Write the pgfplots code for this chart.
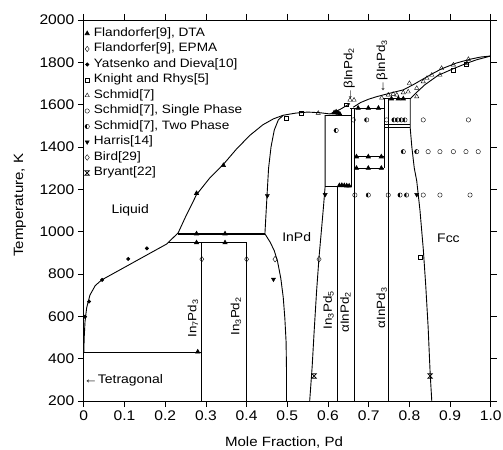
\documentclass[border=0pt]{standalone}
\usepackage{fontspec}
\setmainfont{Liberation Sans}[FakeStretch=1.12]
\usepackage{pgfplots}
\pgfplotsset{compat=1.18}

% hourglass mark for the Bryant data
\pgfdeclareplotmark{hourglass}{%
  \pgfpathmoveto{\pgfqpoint{-\pgfplotmarksize}{\pgfplotmarksize}}%
  \pgfpathlineto{\pgfqpoint{\pgfplotmarksize}{\pgfplotmarksize}}%
  \pgfpathlineto{\pgfqpoint{-\pgfplotmarksize}{-\pgfplotmarksize}}%
  \pgfpathlineto{\pgfqpoint{\pgfplotmarksize}{-\pgfplotmarksize}}%
  \pgfpathclose
  \pgfusepathqstroke}

\begin{document}
\begin{tikzpicture}
\path[use as bounding box] (-83.8bp,-49bp) rectangle (419.2bp,401bp);
\begin{axis}[
  scale only axis, width=407bp, height=381bp,
  xmin=0, xmax=1, ymin=200, ymax=2000,
  xtick={0,0.1,0.2,0.3,0.4,0.5,0.6,0.7,0.8,0.9,1.0},
  xticklabels={0,0.1,0.2,0.3,0.4,0.5,0.6,0.7,0.8,0.9,1.0},
  ytick={200,400,600,800,1000,1200,1400,1600,1800,2000},
  /pgf/number format/assume math mode=true,
  /pgf/number format/set thousands separator={},
  tick align=outside, major tick length=6bp,
  every tick/.style={black, line width=0.8bp},
  axis line style={line width=0.9bp},
  tick label style={font=\fontsize{14}{14}\selectfont},
  xlabel={Mole Fraction, Pd}, ylabel={Temperature, K},
  label style={font=\fontsize{13.5}{13.5}\selectfont},
  xlabel style={at={(axis description cs:0.492,-0.108)}, anchor=center},
  ylabel style={at={(axis description cs:-0.157,0.514)}, anchor=center},
  legend image code/.code={\draw[mark repeat=2,mark phase=2,#1] plot coordinates {(0bp,0bp)(4bp,0bp)(8bp,0bp)};},
  legend cell align=left,
  legend style={at={(axis description cs:0,1)}, anchor=north west,
    xshift=1bp, yshift=-6.3bp, draw=none, fill=none, inner sep=0pt,
    font=\fontsize{12.2}{13}\selectfont, row sep=1.5bp, column sep=3.5bp,
    nodes={inner sep=1bp, text height=9bp, text depth=3bp}},
  bd/.style={black, line width=0.9bp, forget plot},
  rx/.style={black, line width=1.6bp, forget plot},
  mk/.style={only marks, black, mark options={solid, line width=0.7bp}},
]
% ---- phase boundaries ----
% liquidus, In side up to beta InPd2
\addplot[bd] coordinates {(0,430)(0.001,500)(0.003,575)(0.007,640)(0.015,700)(0.028,745)(0.044,772)(0.109,841)(0.155,890)(0.204,942)(0.232,995)(0.25,1070)(0.277,1175)(0.31,1255)(0.343,1318)(0.375,1390)(0.408,1455)(0.44,1505)(0.466,1533)(0.49,1550)(0.52,1560)(0.55,1565)(0.58,1562)(0.605,1556)(0.63,1578)(0.654,1605)};
% liquidus, beta InPd3 to Pd
\addplot[bd] coordinates {(0.662,1588)(0.68,1610)(0.70,1626)(0.72,1638)(0.74,1648)(0.76,1658)(0.785,1670)(0.81,1695)(0.838,1726)(0.86,1750)(0.88,1770)(0.916,1797)(0.95,1815)(0.975,1825)(1.0,1830)};
% solidus of fcc
\addplot[bd] coordinates {(0.802,1628)(0.82,1662)(0.838,1694)(0.87,1738)(0.908,1770)(0.94,1795)(0.965,1812)(1.0,1830)};
% InPd, In-rich boundary
\addplot[bd] coordinates {(0.49,1550)(0.478,1528)(0.468,1480)(0.46,1400)(0.454,1300)(0.45,1165)(0.447,1060)(0.445,990)(0.458,950)(0.468,910)(0.476,860)(0.484,780)(0.49,690)(0.494,590)(0.497,480)(0.498,350)(0.498,200)};
% InPd, Pd-rich boundary
\addplot[bd] coordinates {(0.593,1550)(0.593,1215)(0.589,1120)(0.584,1010)(0.578,880)(0.572,720)(0.566,530)(0.561,360)(0.555,200)};
% fcc boundary
\addplot[bd] coordinates {(0.802,1628)(0.802,1490)(0.806,1400)(0.812,1300)(0.818,1240)(0.826,1100)(0.834,920)(0.84,750)(0.846,550)(0.851,330)(0.855,200)};
% invariant lines
\addplot[rx] coordinates {(0.232,990)(0.445,990)};
\addplot[rx] coordinates {(0.208,948)(0.40,948)};
\addplot[rx] coordinates {(0,430)(0.29,430)};
\addplot[bd] coordinates {(0.593,1550)(0.658,1550)};
\addplot[rx, line width=1.2bp] coordinates {(0.593,1215)(0.658,1215)};
\addplot[bd] coordinates {(0.654,1584)(0.74,1584)};
\addplot[rx, line width=1.2bp] coordinates {(0.666,1354)(0.738,1354)};
\addplot[rx, line width=1.2bp] coordinates {(0.666,1300)(0.738,1300)};
\addplot[bd] coordinates {(0.736,1628)(0.802,1628)};
\addplot[bd] coordinates {(0.738,1505)(0.802,1505)};
\addplot[bd] coordinates {(0.738,1493)(0.802,1493)};
% compounds
\addplot[bd] coordinates {(0.29,200)(0.29,948)};
\addplot[bd] coordinates {(0.40,200)(0.40,948)};
\addplot[bd] coordinates {(0.624,200)(0.624,1215)};
\addplot[bd] coordinates {(0.658,1215)(0.658,1584)};
\addplot[bd] coordinates {(0.666,200)(0.666,1584)};
\addplot[bd] coordinates {(0.738,1300)(0.738,1628)};
\addplot[bd] coordinates {(0.748,200)(0.748,1628)};

% ---- measurements ----
\addplot[mk, mark=triangle*, mark size=2.4bp] coordinates {(0.28,432)(0.277,990)(0.347,990)(0.277,948)(0.347,948)(0.277,1181)(0.343,1313)(0.615,1562)(0.620,1566)(0.625,1560)(0.629,1556)(0.628,1218)(0.634,1219)(0.640,1218)(0.646,1217)(0.652,1216)(0.670,1354)(0.699,1354)(0.731,1354)(0.670,1300)(0.699,1300)(0.731,1300)(0.674,1584)(0.699,1584)(0.724,1584)(0.756,1628)(0.773,1628)(0.785,1628)};
\addlegendentry{Flandorfer[9], DTA}
\addplot[mk, mark=diamond, mark size=2.7bp, mark options={fill=white}] coordinates {(0.29,870)(0.40,870)};
\addlegendentry{Flandorfer[9], EPMA}
\addplot[mk, mark=*, mark size=1.6bp] coordinates {(0.003,598)(0.013,670)(0.045,772)(0.109,871)(0.155,921)};
\addlegendentry{Yatsenko and Dieva[10]}
\addplot[mk, mark=square, mark size=1.9bp, mark options={fill=white}] coordinates {(0.498,1536)(0.535,1559)(0.645,1600)(0.826,880)(0.908,1764)(0.94,1790)};
\addlegendentry{Knight and Rhys[5]}
\addplot[mk, mark=triangle, mark size=2.5bp, mark options={fill=white}] coordinates {(0.576,1560)(0.654,1622)(0.664,1622)(0.732,1632)(0.748,1646)(0.769,1646)(0.785,1657)(0.797,1661)(0.818,1638)(0.818,1678)(0.834,1709)(0.843,1725)(0.855,1740)(0.875,1740)(0.879,1772)(0.908,1788)(0.941,1796)(0.945,1815)(0.80,1701)(0.76,1650)};
\addlegendentry{Schmid[7]}
\addplot[mk, mark=o, mark size=2.2bp, mark options={fill=white}] coordinates {(0.666,1173)(0.748,1173)(0.834,1173)(0.875,1173)(0.949,1173)(0.846,1378)(0.875,1378)(0.908,1378)(0.939,1378)(0.969,1378)(0.662,1528)(0.744,1528)(0.834,1528)(0.945,1528)};
\addlegendentry{Schmid[7], Single Phase}
\addplot[mk, mark=halfcircle*, mark size=2.2bp, mark options={rotate=90, fill=black}] coordinates {(0.699,1173)(0.777,1173)(0.793,1173)(0.785,1378)(0.818,1378)(0.695,1528)(0.762,1528)(0.771,1528)(0.780,1528)(0.789,1528)(0.620,1478)};
\addlegendentry{Schmid[7], Two Phase}
\addplot[mk, mark=triangle*, mark size=2.4bp, mark options={rotate=180}] coordinates {(0.451,1170)(0.593,1175)(0.466,775)(0.818,1175)};
\addlegendentry{Harris[14]}
\addplot[mk, mark=diamond, mark size=2.9bp, mark options={fill=white}] coordinates {(0.47,870)(0.578,870)};
\addlegendentry{Bird[29]}
\addplot[mk, mark=hourglass, mark size=2.2bp] coordinates {(0.566,318)(0.851,318)};
\addlegendentry{Bryant[22]}

% ---- phase labels ----
\begin{scope}[font=\fontsize{12.5}{12.5}\selectfont]
\node at (axis cs:0.114,1099) {Liquid};
\node at (axis cs:0.523,976) {InPd};
\node at (axis cs:0.896,969) {Fcc};
\node[anchor=west, inner sep=0pt] at (axis cs:0.0,300) {←Tetragonal};
\end{scope}
\begin{scope}[font=\fontsize{12}{12}\selectfont]
\node[rotate=90] at (axis cs:0.268,590) {In\textsubscript{7}Pd\textsubscript{3}};
\node[rotate=90] at (axis cs:0.374,600) {In\textsubscript{3}Pd\textsubscript{2}};
\node[rotate=90] at (axis cs:0.601,630) {In\textsubscript{3}Pd\textsubscript{5}};
\node[rotate=90] at (axis cs:0.643,620) {αInPd\textsubscript{2}};
\node[rotate=90] at (axis cs:0.732,640) {αInPd\textsubscript{3}};
\node[rotate=90, anchor=west, inner sep=0pt] at (axis cs:0.652,1612) {←βInPd\textsubscript{2}};
\node[rotate=90, anchor=west, inner sep=0pt] at (axis cs:0.733,1650) {←βInPd\textsubscript{3}};
\end{scope}
\end{axis}
\end{tikzpicture}
\end{document}
